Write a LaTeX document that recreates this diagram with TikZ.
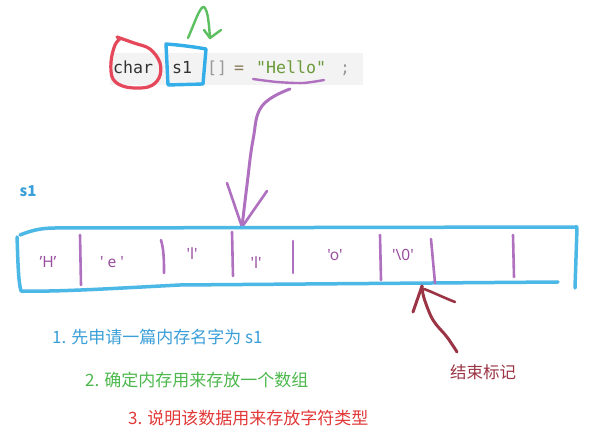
\documentclass[tikz,border=0pt]{standalone}
\usepackage{fontspec}
\newfontfamily\cjk{Noto Sans CJK SC}[Ligatures=TeXOff]
\newfontfamily\latsans{Noto Sans}[Ligatures=TeXOff]
\newfontfamily\codefont{DejaVu Sans Mono}[Ligatures=TeXOff]
\definecolor{boxblue}{HTML}{4CB8E6}
\definecolor{txtblue}{HTML}{3A9FD8}
\definecolor{txtgreen}{HTML}{4DB84D}
\definecolor{txtred}{HTML}{E23838}
\definecolor{purp}{HTML}{B070C0}
\definecolor{labpurp}{HTML}{9A4FA0}
\definecolor{darkred}{HTML}{9B3545}
\definecolor{loopred}{HTML}{E5485A}
\definecolor{penblue}{HTML}{33AEE8}
\definecolor{pengreen}{HTML}{5CC060}
\definecolor{codegrey}{HTML}{F3F3F3}
\definecolor{codedark}{HTML}{333333}
\definecolor{codebr}{HTML}{999999}
\definecolor{codeeq}{HTML}{8A7A5A}
\definecolor{codestr}{HTML}{6A9A3A}
\begin{document}
\begin{tikzpicture}[x=1pt,y=-1pt,
  code/.style={inner sep=0pt,anchor=base west,font=\codefont\fontsize{16.6}{20}\selectfont},
  cell/.style={inner sep=0pt,text=labpurp,font=\latsans\fontsize{15.5}{18}\selectfont},
  note/.style={inner sep=0pt,anchor=west,font=\cjk\fontsize{17}{20}\selectfont},
  pen/.style={line width=3pt,line cap=round,line join=round},
  divider/.style={purp,line width=2.6pt,line cap=round}]
\useasboundingbox (0,0) rectangle (590,435);
\fill[white] (0,0) rectangle (590,435);
% code strip
\fill[codegrey] (110,53) rectangle (363,85);
\node[code,text=codedark] (char) at (113,74) {char};
\node[code,text=codedark] (s1c) at (172,74) {s1};
\node[code,text=codebr] (br) at (207,74) {[]};
\node[code,text=codeeq] (eq) at (234,74) {=};
\node[code,text=codestr] (hello) at (256,74) {"Hello"};
\node[code,text=codebr] (semi) at (340,74) {;};
% red loop around char
\draw[pen,loopred,line width=3.2pt] plot[smooth,tension=0.6] coordinates
  {(117,37) (134,43) (150,49) (160,63) (159,78) (148,87) (126,87) (113,79) (111,62) (115,45) (121,38)};
% blue box around s1
\draw[pen,penblue,line width=3.4pt] (166,44) .. controls (180,45) and (195,47) .. (206,49)
  -- (203,84) -- (168,85) -- cycle;
% green arrow
\coordinate (gtip) at (210,38);
\draw[pen,pengreen,line width=2.4pt] (188,38) .. controls (195,22) and (200,6) .. (204,7)
  .. controls (208,10) and (209,25) .. (gtip);
\draw[pen,pengreen,line width=2.4pt] (204,30) -- (gtip) -- (221,30);
% purple underline
\draw[pen,purp,line width=2.4pt] plot[smooth] coordinates {(253,79) (277,82) (303,83) (324,80)};
% purple arrow
\coordinate (pstart) at (290,89);
\coordinate (ptip) at (242,227);
\draw[pen,purp] plot[smooth,tension=0.7] coordinates {(pstart) (262,106) (253,140) (247,185) (ptip)};
\draw[pen,purp,line width=2.6pt] (227,183) -- (ptip) -- (267,191);
% s1 label
\node[inner sep=0pt,text=txtblue,font=\cjk\bfseries\fontsize{15}{18}\selectfont] (s1lab) at (28,191) {s1};
% big memory box
\draw[pen,boxblue,line width=3.5pt]
  (20,235) .. controls (30,231) and (40,228) .. (55,228) -- (577,227);
\draw[pen,boxblue,line width=3.5pt] (577,228) -- (575,288);
\draw[pen,boxblue,line width=3.5pt] (17,237) .. controls (18,260) and (18,280) .. (21,291)
  .. controls (60,292) and (120,288) .. (180,285) -- (558,282);
% dividers
\draw[divider] (80,235) -- (81,285);
\draw[divider] (161,240) .. controls (164,250) and (164,262) .. (164,273);
\draw[divider] (232,232) -- (233,276);
\draw[divider] (293,241) -- (293,273);
\draw[divider] (380,235) -- (381,280);
\draw[divider] (431,239) -- (435,283);
\draw[divider] (513,235) -- (514,277);
% cell labels
\node[cell] (cH) at (48,262) {’H’};
\node[cell] (ce) at (112,262) {' e '};
\node[cell] (cl1) at (192,254) {'l'};
\node[cell] (cl2) at (256,263) {'l'};
\node[cell] (co) at (335,255) {'o'};
\node[cell] (c0) at (403,255) {'\textbackslash 0'};
% dark red arrow
\coordinate (rtip) at (422,286);
\node[note,text=darkred,font=\cjk\fontsize{16.5}{20}\selectfont] (endlab) at (450,372) {结束标记};
\coordinate (rstart) at (457,352);
\draw[pen,darkred] plot[smooth,tension=0.6] coordinates {(rstart) (447,337) (433,320) (424,298) (rtip)};
\draw[pen,darkred] (413,312) -- (rtip);
\draw[pen,darkred,line width=2.6pt] (455,302) .. controls (440,296) and (430,291) .. (424,289);
% notes
\node[note,text=txtblue] (n1) at (52,337) {1. 先申请一篇内存名字为 s1};
\node[note,text=txtgreen] (n2) at (85,380) {2. 确定内存用来存放一个数组};
\node[note,text=txtred] (n3) at (128,418) {3. 说明该数据用来存放字符类型};
\end{tikzpicture}
\end{document}
